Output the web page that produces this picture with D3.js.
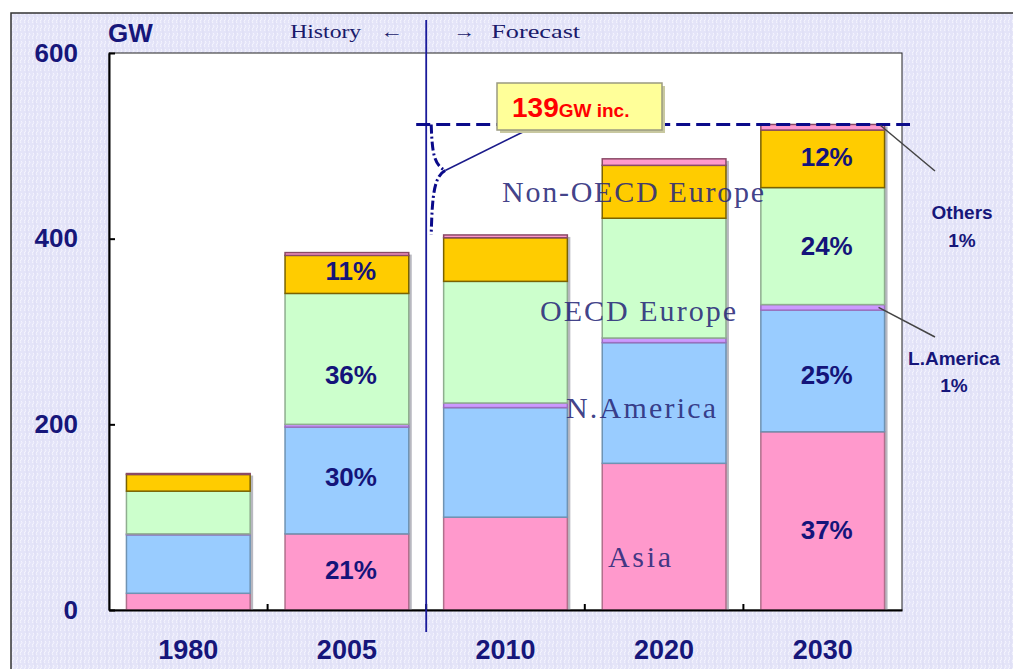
<!DOCTYPE html>
<html>
<head>
<meta charset="utf-8">
<script src="https://cdn.jsdelivr.net/npm/d3@7"></script>
<style>
  html, body { margin: 0; padding: 0; background: #ffffff; }
  svg { display: block; }
</style>
</head>
<body>
<svg id="chart" width="1013" height="669"></svg>
<script>
// categories
const years = ["1980", "2005", "2010", "2020", "2030"];

// series values (GW)
const asia          = [18, 82, 100, 158, 192];
const nAmerica      = [63, 115, 118, 130, 131];
const lAmerica      = [1, 3, 5, 5, 6];
const oecdEurope    = [46, 141, 131, 129, 126];
const nonOecdEurope = [18, 41, 47, 57, 62];
const others        = [1, 3, 3, 7, 6];

const seriesKeys = ["asia", "nAmerica", "lAmerica", "oecdEurope", "nonOecdEurope", "others"];
const seriesFill   = ["#ff99cc", "#99ccff", "#cc99ff", "#ccffcc", "#ffcc00", "#ff99cc"];
const seriesStroke = ["#b0708c", "#6f93b3", "#9a6fbf", "#8fae8f", "#7a6200", "#8a4a66"];

// tick labels
const yTicks = [0, 200, 400, 600];

// percentage labels inside bars
const pctYear   = ["2005", "2005", "2005", "2005", "2030", "2030", "2030", "2030"];
const pctSeries = ["asia", "nAmerica", "oecdEurope", "nonOecdEurope", "asia", "nAmerica", "oecdEurope", "nonOecdEurope"];
const pctText   = ["21%", "30%", "36%", "11%", "37%", "25%", "24%", "12%"];
const pctShift  = [-2, -4, 16, -4, 9, 4, 0, -2];

// region names drawn across the bars (value = baseline height in GW)
const regionNames  = ["Non-OECD Europe", "OECD Europe", "N.America", "Asia"];
const regionValues = [439, 311, 207, 46];

const increaseValue = 523;  // dashed forecast line

const svg = d3.select('#chart');
const W = 1013, H = 669;
const margin = { left: 109, top: 53, right: 902, bottom: 610 };

// rows for stacking
const rows = years.map((y, i) => ({
  year: y,
  asia: asia[i], nAmerica: nAmerica[i], lAmerica: lAmerica[i],
  oecdEurope: oecdEurope[i], nonOecdEurope: nonOecdEurope[i], others: others[i]
}));
const stacked = d3.stack().keys(seriesKeys)(rows);

const x = d3.scaleBand().domain(years).range([margin.left, margin.right]).paddingInner(0.22).paddingOuter(0.11);
const y = d3.scaleLinear().domain([0, 600]).range([margin.bottom, margin.top]);

// background texture
const defs = svg.append('defs');
const pat = defs.append('pattern')
  .attr('id', 'bgpat').attr('patternUnits', 'userSpaceOnUse')
  .attr('width', 8).attr('height', 8);
pat.append('rect').attr('width', 8).attr('height', 8).attr('fill', '#e4e4f8');
pat.append('path').attr('d', 'M1,1 q2,1 0,3 q-2,1 0,3 M5,1 q2,1 0,3 q-2,1 0,3')
  .attr('fill', 'none').attr('stroke', '#f6f6ff').attr('stroke-width', 1);
pat.append('path').attr('d', 'M3,0 L3,8')
  .attr('stroke', '#d8d8f2').attr('stroke-width', 0.6);

svg.append('rect').attr('x', 0).attr('y', 0).attr('width', W).attr('height', H).attr('fill', '#ffffff');
svg.append('rect')
  .attr('x', 11).attr('y', 13).attr('width', W + 20).attr('height', H + 20)
  .attr('fill', 'url(#bgpat)')
  .attr('stroke', '#333').attr('stroke-width', 1.5);

// plot area
svg.append('rect')
  .attr('x', margin.left).attr('y', margin.top)
  .attr('width', margin.right - margin.left).attr('height', margin.bottom - margin.top)
  .attr('fill', '#ffffff').attr('stroke', '#222').attr('stroke-width', 1);

// bar shadows
svg.append('g').selectAll('rect')
  .data(rows)
  .join('rect')
  .attr('x', d => x(d.year) + 3)
  .attr('y', d => y(d3.sum(seriesKeys, k => d[k])) + 2)
  .attr('width', x.bandwidth())
  .attr('height', d => y(0) - y(d3.sum(seriesKeys, k => d[k])) - 2)
  .attr('fill', '#b8b8c0');

// stacked bars
svg.append('g').selectAll('g')
  .data(stacked)
  .join('g')
  .attr('fill', (d, i) => seriesFill[i])
  .attr('stroke', (d, i) => seriesStroke[i])
  .attr('stroke-width', 1.5)
  .selectAll('rect')
  .data(d => d)
  .join('rect')
  .attr('x', d => x(d.data.year))
  .attr('y', d => y(d[1]))
  .attr('width', x.bandwidth())
  .attr('height', d => Math.max(0, y(d[0]) - y(d[1])));

// axes
const yAxis = d3.axisLeft(y).tickValues(yTicks).tickSizeInner(-6).tickSizeOuter(0).tickPadding(31);
const gy = svg.append('g').attr('transform', `translate(${margin.left},0)`).call(yAxis);
gy.select('.domain').attr('stroke', '#000').attr('stroke-width', 2);
gy.selectAll('.tick line').attr('stroke', '#000').attr('stroke-width', 2);
gy.selectAll('.tick text')
  .attr('fill', '#16167a').attr('font-family', 'Liberation Sans, Arial, sans-serif')
  .attr('font-weight', 'bold').attr('font-size', 26);

const xAxis = d3.axisBottom(x).tickSize(0).tickPadding(30);
const gx = svg.append('g').attr('transform', `translate(0,${margin.bottom})`).call(xAxis);
gx.select('.domain').attr('stroke', '#000').attr('stroke-width', 2);
gx.selectAll('.tick text')
  .attr('fill', '#16167a').attr('font-family', 'Liberation Sans, Arial, sans-serif')
  .attr('font-weight', 'bold').attr('font-size', 27);

// tick marks between categories
const step = x.step();
svg.append('g').selectAll('line')
  .data(years.slice(1))
  .join('line')
  .attr('x1', d => x(d) - (step - x.bandwidth()) / 2)
  .attr('x2', d => x(d) - (step - x.bandwidth()) / 2)
  .attr('y1', margin.bottom).attr('y2', margin.bottom - 6)
  .attr('stroke', '#000').attr('stroke-width', 2);

// GW unit
svg.append('text')
  .attr('x', 108).attr('y', 42)
  .attr('fill', '#16167a').attr('font-family', 'Liberation Sans, Arial, sans-serif')
  .attr('font-weight', 'bold').attr('font-size', 26)
  .text('GW');

// history / forecast divider
const divX = x('2010') - (step - x.bandwidth()) / 2;
svg.append('line')
  .attr('x1', divX).attr('x2', divX).attr('y1', 20).attr('y2', 632)
  .attr('stroke', '#1a1a9a').attr('stroke-width', 1.8);
// header words: [text, left x, width]
[['History', divX - 136, 71], ['←', divX - 46, 23], ['→', divX + 27, 22], ['Forecast', divX + 65, 89]].forEach(h => {
  svg.append('text')
    .attr('x', h[1]).attr('y', 38)
    .attr('fill', '#1a1a6a').attr('font-family', 'Liberation Serif, serif')
    .attr('font-size', 19)
    .attr('textLength', h[2]).attr('lengthAdjust', 'spacingAndGlyphs')
    .text(h[0]);
});

// dashed increase line
svg.append('line')
  .attr('x1', divX - 10).attr('x2', 910)
  .attr('y1', y(increaseValue)).attr('y2', y(increaseValue))
  .attr('stroke', '#0a0a8a').attr('stroke-width', 3).attr('stroke-dasharray', '14,6');

// brace showing the increase
const yTop = y(increaseValue);
svg.append('path')
  .attr('d', `M${divX + 5},${yTop} C${divX + 6},${yTop + 30} ${divX + 8},${yTop + 40} ${divX + 19},${yTop + 46}
              M${divX + 19},${yTop + 46} C${divX + 8},${yTop + 52} ${divX + 6},${yTop + 70} ${divX + 5},${y(404)}`)
  .attr('fill', 'none').attr('stroke', '#0a0a8a').attr('stroke-width', 3)
  .attr('stroke-dasharray', '9,3,2,3');
svg.append('line')
  .attr('x1', divX + 19).attr('y1', yTop + 46).attr('x2', 525).attr('y2', 131)
  .attr('stroke', '#1a1a8a').attr('stroke-width', 1.5);

// 139GW box
svg.append('rect')
  .attr('x', 500).attr('y', 86).attr('width', 165).attr('height', 47)
  .attr('fill', '#c8c8a0');
svg.append('rect')
  .attr('x', 497).attr('y', 83).attr('width', 165).attr('height', 47)
  .attr('fill', '#ffff99').attr('stroke', '#9a9a80').attr('stroke-width', 1.5);
const boxText = svg.append('text')
  .attr('x', 512).attr('y', 117)
  .attr('fill', '#ff0000').attr('font-family', 'Liberation Sans, Arial, sans-serif')
  .attr('font-weight', 'bold');
boxText.append('tspan').attr('font-size', 28).text('139');
boxText.append('tspan').attr('font-size', 19).text('GW inc.');

// percentage labels
svg.append('g').selectAll('text')
  .data(pctText.map((t, i) => ({ t, yr: pctYear[i], key: pctSeries[i], dy: pctShift[i] })))
  .join('text')
  .attr('x', d => x(d.yr) + x.bandwidth() / 2 + 4)
  .attr('y', d => {
    const s = stacked[seriesKeys.indexOf(d.key)][years.indexOf(d.yr)];
    return (y(s[0]) + y(s[1])) / 2 + d.dy;
  })
  .attr('dy', '0.35em')
  .attr('text-anchor', 'middle')
  .attr('fill', '#14147a').attr('font-family', 'Liberation Sans, Arial, sans-serif')
  .attr('font-weight', 'bold').attr('font-size', 26)
  .text(d => d.t);

// region names
const regionX = [502, 540, 566, 608];
const regionLen = [262, 196, 150, 63];
svg.append('g').selectAll('text')
  .data(regionNames)
  .join('text')
  .attr('x', (d, i) => regionX[i])
  .attr('y', (d, i) => y(regionValues[i]))
  .attr('fill', '#2a2a7a').attr('fill-opacity', 0.9)
  .attr('font-family', 'Liberation Serif, serif')
  .attr('font-size', 30)
  .attr('textLength', (d, i) => regionLen[i]).attr('lengthAdjust', 'spacing')
  .text(d => d);

// side notes
const noteFont = 'Liberation Sans, Arial, sans-serif';
[['Others', 962, 219], ['1%', 962, 247], ['L.America', 954, 365], ['1%', 954, 392]].forEach(n => {
  svg.append('text')
    .attr('x', n[1]).attr('y', n[2]).attr('text-anchor', 'middle')
    .attr('fill', '#16167a').attr('font-family', noteFont)
    .attr('font-weight', 'bold').attr('font-size', 19)
    .text(n[0]);
});
const x2030 = x('2030') + x.bandwidth();
const top2030 = stacked[5][4];
const lam2030 = stacked[2][4];
svg.append('line')
  .attr('x1', x2030 - 4).attr('y1', y(top2030[1]) + 1).attr('x2', 935).attr('y2', 171)
  .attr('stroke', '#444').attr('stroke-width', 1.5);
svg.append('line')
  .attr('x1', x2030 - 6).attr('y1', (y(lam2030[0]) + y(lam2030[1])) / 2).attr('x2', 935).attr('y2', 337)
  .attr('stroke', '#444').attr('stroke-width', 1.5);
</script>
</body>
</html>
